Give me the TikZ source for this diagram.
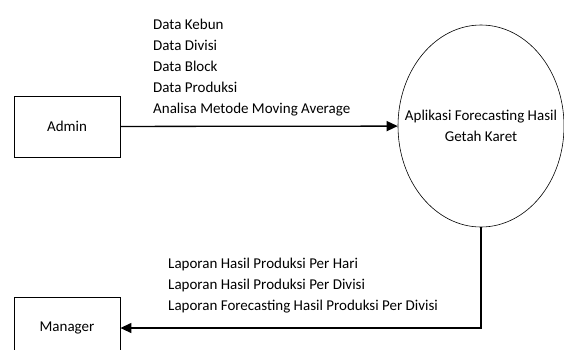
\documentclass[tikz,border=0pt]{standalone}
\usepackage{fontspec}
\setmainfont{Carlito}
\usetikzlibrary{arrows.meta}
\usetikzlibrary{shapes.geometric}

\begin{document}
\begin{tikzpicture}[x=1pt, y=-1pt, font=\fontsize{15}{21}\selectfont,
  entity/.style={draw, line width=0.8, minimum width=106, minimum height=61},
  flow/.style={line width=1.3, -{Triangle[length=11, width=10]}}]
\clip (0,0) rectangle (564,349);
\node[entity] (admin) at (67,126.5) {Admin};
\node[entity] (manager) at (67,328) {Manager};
\node[ellipse, draw, line width=0.6, inner sep=0, minimum width=166, minimum height=202] (app) at (481,126) {};
\node[align=center] (apptext) at (app.center) {Aplikasi Forecasting Hasil\\Getah Karet};
\draw[flow] (admin) -- (app);
\draw[flow] (app.south) |- (manager.east);
\node[anchor=north west, inner sep=0, align=left] (datalist) at (153,19) {Data Kebun\\Data Divisi\\Data Block\\Data Produksi\\Analisa Metode Moving Average};
\node[anchor=north west, inner sep=0, align=left] (reportlist) at (168,258) {Laporan Hasil Produksi Per Hari\\Laporan Hasil Produksi Per Divisi\\Laporan Forecasting Hasil Produksi Per Divisi};
\end{tikzpicture}
\end{document}
